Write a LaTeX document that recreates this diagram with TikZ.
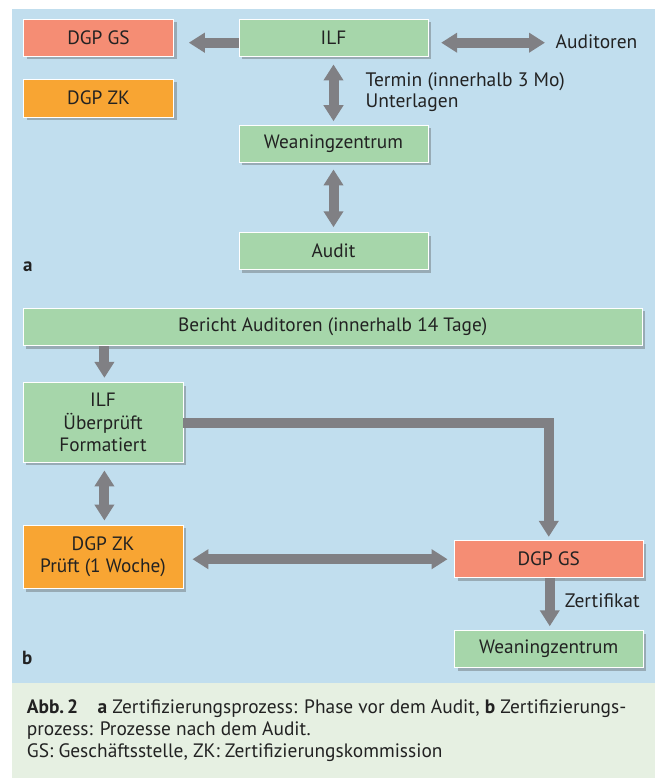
\documentclass[tikz,border=0pt]{standalone}
\usepackage{fontspec}
\setmainfont{PT Sans}
\usetikzlibrary{arrows.meta,shadows}
\definecolor{panelblue}{HTML}{C1DEEE}
\definecolor{capgreen}{HTML}{E6F0E2}
\definecolor{boxgreen}{HTML}{A6D6AA}
\definecolor{boxsalmon}{HTML}{F58D74}
\definecolor{boxorange}{HTML}{F8A533}
\definecolor{arrgrey}{HTML}{808084}
\definecolor{txt}{HTML}{222222}
\tikzset{
  box/.style={draw=white, line width=0.9pt, inner sep=0pt, align=center,
    text=txt, font=\fontsize{19.3}{22.3}\selectfont,
    drop shadow={opacity=0.35, shadow xshift=3pt, shadow yshift=-3pt, fill=black!70}},
  gbox/.style={box, fill=boxgreen},
  sbox/.style={box, fill=boxsalmon},
  obox/.style={box, fill=boxorange},
  arr/.style={draw=arrgrey, line width=10pt, -{Triangle[width=19pt,length=16pt]}},
  darr/.style={draw=arrgrey, line width=10pt, {Triangle[width=19pt,length=16pt]}-{Triangle[width=19pt,length=16pt]}},
  lbl/.style={text=txt, font=\fontsize{19.5}{21.7}\selectfont, inner sep=0pt, align=left},
  panlbl/.style={text=txt, font=\fontsize{19}{20}\selectfont\bfseries, inner sep=0pt},
  capline/.style={anchor=base west, inner sep=0pt, text=txt, font=\fontsize{19.4}{22}\selectfont}
}
\begin{document}
\begin{tikzpicture}[x=1pt, y=-1pt]
\useasboundingbox (0,0) rectangle (655,778);
\fill[white] (0,0) rectangle (655,778);
\fill[panelblue] (11.7,9) rectangle (655,682.7);
\fill[capgreen] (11.7,682.7) rectangle (655,778);

% panel a
\node[sbox, minimum width=150pt, minimum height=37pt] (gsa) at (98.5,38) {DGP GS};
\node[obox, minimum width=150pt, minimum height=38pt] (zka) at (98.5,98) {DGP ZK};
\node[gbox, minimum width=189pt, minimum height=37pt] (ilfa) at (333.5,38) {ILF};
\node[gbox, minimum width=189pt, minimum height=37pt] (wza) at (333.5,143.7) {Weaningzentrum};
\node[gbox, minimum width=189pt, minimum height=37pt] (audit) at (333.5,251) {Audit};
\node[lbl, anchor=west] (aud) at (555.5,41.7) {Auditoren};
\node[lbl, anchor=west] (termin) at (365.5,92) {Termin (innerhalb 3 Mo)\\Unterlagen};
\node[panlbl, anchor=base west] (la) at (23,271) {a};
\coordinate (audtip) at (545,42.7);
\coordinate (gstip) at (188.8,42.7);

\draw[arr] (ilfa.west |- gstip) -- (gstip);
\draw[darr] ([xshift=12.7pt]ilfa.east |- audtip) -- (audtip);
\draw[darr] ([yshift=-7.5pt]ilfa.south) -- ([yshift=3.5pt]wza.north);
\draw[darr] ([yshift=-6.8pt]wza.south) -- ([yshift=4.8pt]audit.north);

% panel b
\node[gbox, minimum width=619.5pt, minimum height=37.4pt] (bericht) at (332.7,327) {Bericht Auditoren (innerhalb 14 Tage)};
\node[gbox, minimum width=160pt, minimum height=79.6pt] (ilfb) at (103,422.5) {ILF\\Überprüft\\Formatiert};
\node[obox, minimum width=160pt, minimum height=63.4pt] (zkb) at (103,557) {DGP ZK\\Prüft (1 Woche)};
\node[sbox, minimum width=188.5pt, minimum height=37pt] (gsb) at (548.75,559.2) {DGP GS};
\node[gbox, minimum width=188.5pt, minimum height=37pt] (wzb) at (548.75,649.2) {Weaningzentrum};
\node[lbl, anchor=west] (zert) at (564.7,600.7) {Zertifikat};
\node[panlbl, anchor=base west] (lb) at (22,664) {b};

\draw[arr] ([xshift=1.4pt]bericht.south -| ilfb.north) -- ([xshift=1.4pt,yshift=4.4pt]ilfb.north);
\draw[darr] ([xshift=1.4pt,yshift=-7.7pt]ilfb.south) -- ([xshift=1.4pt,yshift=4.3pt]zkb.north);
\draw[arr] (ilfb.east) -| ([yshift=3.4pt]gsb.north);
\draw[darr] ([xshift=9pt]zkb.east |- gsb.west) -- ([xshift=-6.5pt]gsb.west);
\draw[arr] ([xshift=1pt]gsb.south) -- ([xshift=1pt,yshift=4pt]wzb.north);

% caption
\node[capline] (cap1) at (26.7,713)
  {\textbf{Abb.\,2}\quad\textbf{a} Zertifizierungsprozess: Phase vor dem Audit, \textbf{b} Zertifizierungs-};
\node[capline] (cap2) at (26.7,735) {prozess: Prozesse nach dem Audit.};
\node[capline] (cap3) at (26.7,757) {GS: Geschäftsstelle, ZK: Zertifizierungskommission};
\end{tikzpicture}
\end{document}
